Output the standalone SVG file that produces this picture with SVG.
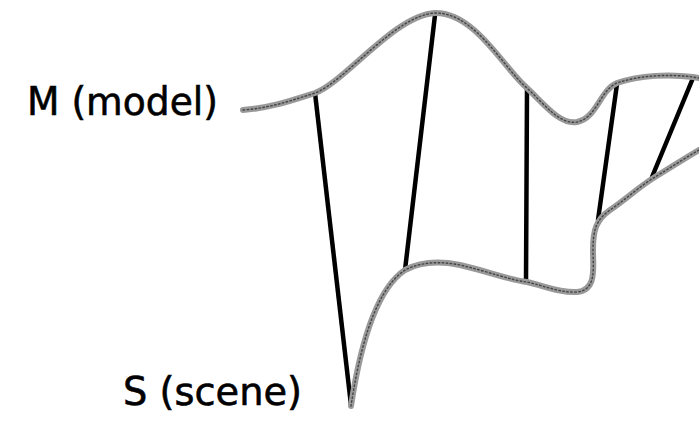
<svg xmlns="http://www.w3.org/2000/svg" width="699" height="423" viewBox="0 0 699 423">
<style>
.surf{fill:none;stroke:#999;stroke-width:6;stroke-linecap:round;stroke-linejoin:round}
.tex{fill:none;stroke:#444;stroke-width:1.4;stroke-dasharray:1.5 2.5;stroke-linecap:round}
.corr{fill:none;stroke:#000;stroke-width:4.5;stroke-linecap:round}
.lbl{font-family:"DejaVu Sans",Verdana,sans-serif;font-size:39px;fill:#000;stroke:#000;stroke-width:0.6}
</style>
<rect width="699" height="423" fill="#fff"/>
<g id="connectors">
<line class="corr" x1="315" y1="93" x2="351" y2="405"/>
<line class="corr" x1="435" y1="15" x2="405" y2="270"/>
<line class="corr" x1="527" y1="89" x2="526" y2="281"/>
<line class="corr" x1="617" y1="84" x2="598" y2="220"/>
<line class="corr" x1="693" y1="78" x2="652" y2="177"/>
</g>
<g id="model">
<path class="surf" d="M243,110 C270,108 290,101 315,93 C345,82 395,15 435,13 C475,12 505,70 527,88 C545,105 560,125 577,122 C597,118 600,90 617,83 C640,75 670,74 693,77 L699,78"/>
<path class="tex" d="M243,110 C270,108 290,101 315,93 C345,82 395,15 435,13 C475,12 505,70 527,88 C545,105 560,125 577,122 C597,118 600,90 617,83 C640,75 670,74 693,77 L699,78"/>
<text class="lbl" x="27" y="115" textLength="191" lengthAdjust="spacingAndGlyphs">M (model)</text>
</g>
<g id="scene">
<path class="surf" d="M351,406 C358,360 372,292 405,270 C420,262 440,261 460,265 C490,272 510,280 527,282 C545,286 560,293 577,292 C597,290 593,268 593,250 C593,230 596,220 610,210 C625,200 640,186 655,177 C670,168 685,158 699,150"/>
<path class="tex" d="M351,406 C358,360 372,292 405,270 C420,262 440,261 460,265 C490,272 510,280 527,282 C545,286 560,293 577,292 C597,290 593,268 593,250 C593,230 596,220 610,210 C625,200 640,186 655,177 C670,168 685,158 699,150"/>
<text class="lbl" x="123" y="405" textLength="179" lengthAdjust="spacingAndGlyphs">S (scene)</text>
</g>
</svg>
